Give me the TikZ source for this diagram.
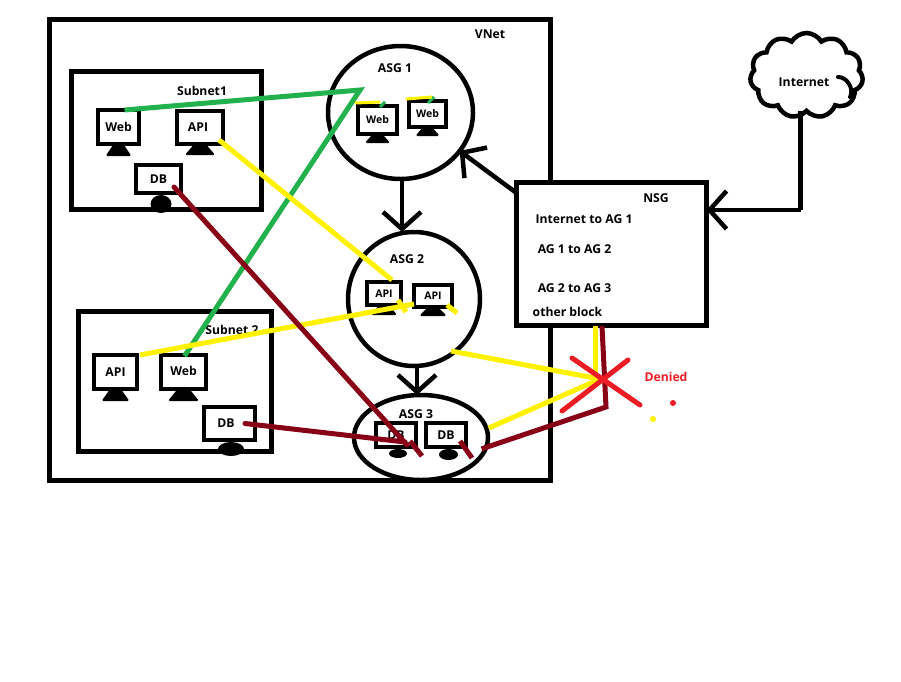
\documentclass[tikz,border=0pt]{standalone}
\usepackage{fontspec}
\setmainfont{Open Sans}
\usetikzlibrary{arrows.meta,shapes.geometric,shapes.symbols}
\definecolor{lineyellow}{RGB}{255,242,0}
\definecolor{linegreen}{RGB}{34,177,76}
\definecolor{linemaroon}{RGB}{136,0,21}
\definecolor{linered}{RGB}{237,28,36}
% foot of a screen: below which screen, width, height
\newcommand{\standtri}[3]{\filldraw[line width=2pt,line join=round] ([xshift=-#2*0.2 pt,yshift=-1pt]#1.south) -- ([xshift=#2*0.2 pt,yshift=-1pt]#1.south) -- ([xshift=#2*0.5 pt,yshift=-#3 pt]#1.south) -- ([xshift=-#2*0.5 pt,yshift=-#3 pt]#1.south) -- cycle;}
\tikzset{
  every node/.style={font=\bfseries\fontsize{12.2}{14}\selectfont,outer sep=0pt,inner sep=0pt},
  box/.style={draw,line width=5pt},
  monitor/.style 2 args={draw,line width=4.5pt,fill=white,minimum width=#1 pt,minimum height=#2 pt},
  smallscreen/.style={font=\bfseries\fontsize{10.5}{12}\selectfont},
  group/.style 2 args={draw,ellipse,line width=4.5pt,minimum width=#1 pt,minimum height=#2 pt},
  standblob/.style 2 args={fill=black,ellipse,minimum width=#1 pt,minimum height=#2 pt},
  conn/.style={line width=4.5pt,-{Straight Barb[length=17pt,width=38pt]}},
  flow/.style={line width=5pt},
}
\begin{document}
\begin{tikzpicture}[x=1pt,y=-1pt]
  \useasboundingbox (0,0) rectangle (901,681);

  \node[box,minimum width=501pt,minimum height=461pt] (vnet) at (300,250) {};
  \node[box,minimum width=190pt,minimum height=138.5pt] (subnet1) at (166.5,140.5) {};
  \node[box,minimum width=193.5pt,minimum height=140.5pt] (subnet2) at (175,381.5) {};
  \node[group={145}{133}] (asg1) at (400.5,112.5) {};
  \node[group={132}{134}] (asg2) at (414,299) {};
  \node[group={134}{85}] (asg3) at (421,437.5) {};
  \node[box,fill=white,minimum width=190pt,minimum height=143pt] (nsg) at (611.5,254) {};
  \node[draw,cloud,line width=4.5pt,cloud puffs=11,cloud puff arc=120,aspect=1.35,minimum width=113pt,minimum height=85pt] (internet) at (806.5,75.5) {};
  \draw[line width=4pt,line cap=round] (838,77) to[bend left=60] (850,97);

  % labels
  \node (vnetlabel) at (490,34) {VNet};
  \node (subnet1label) at (202,91) {Subnet1};
  \node (subnet2label) at (232,330) {Subnet 2};
  \node (asg1label) at (395,68) {ASG 1};
  \node (asg2label) at (407,259) {ASG 2};
  \node (asg3label) at (416,414) {ASG 3};
  \node (internetlabel) at (804,82) {Internet};
  \node (nsglabel) at (656,198.5) {NSG};
  \node (rule1) at (584,219) {Internet to AG 1};
  \node (rule2) at (574.5,249.5) {AG 1 to AG 2};
  \node (rule3) at (574.5,288.5) {AG 2 to AG 3};
  \node (rule4) at (567.5,312) {other block};
  \node[text=linered] (deniedlabel) at (666,377) {Denied};

  % monitors
  \node[monitor={41}{34}] (web1) at (118.5,127) {\raisebox{-2pt}{Web}};
  \node[monitor={46}{33}] (api1) at (200,127.5) {\hspace*{-4pt}API};
  \node[monitor={45}{28}] (db1) at (158.5,179) {DB};
  \node[monitor={39}{28},smallscreen] (web2) at (377.5,120) {Web};
  \node[monitor={37}{26},smallscreen] (web3) at (427.5,114) {Web};
  \node[monitor={34}{23},smallscreen] (api2) at (384,293.5) {API};
  \node[monitor={38}{22},smallscreen] (api3) at (433,296) {API};
  \node[monitor={40}{24}] (db2) at (396,435) {DB};
  \node[monitor={40}{24}] (db3) at (446,435) {DB};
  \node[monitor={43}{34}] (api4) at (115.5,372) {API};
  \node[monitor={45}{34}] (web4) at (183.5,372) {\raisebox{2pt}{Web}};
  \node[monitor={51}{33}] (db4) at (229.5,423.5) {\hspace*{-7pt}DB};

  % stands
  \standtri{web1}{22}{11}
  \standtri{api1}{26}{10}
  \node[standblob={21}{18}] (stand3) at (161,204) {};
  \standtri{web2}{21}{8}
  \standtri{web3}{20}{8}
  \standtri{api2}{22}{9}
  \standtri{api3}{23}{8}
  \node[standblob={18}{9}] (stand8) at (398,453.5) {};
  \node[standblob={19}{11}] (stand9) at (448.5,454.5) {};
  \standtri{api4}{24}{11}
  \standtri{web4}{27}{11}
  \node[standblob={26}{14}] (stand12) at (231,449) {};

  % traffic
  \draw[conn] ([xshift=1.5pt]asg1.south) -- ([xshift=1.5pt]asg1.south |- asg2.north);
  \draw[conn] ([xshift=3pt]asg2.south) -- ([xshift=3pt]asg2.south |- asg3.north);
  \draw[conn] ([yshift=-10.5pt]nsg.north west) -- (asg1.-33);
  \coordinate (junction) at (800.5,210);
  \draw[line width=4.5pt] (junction |- internet.south) -- (junction);
  \draw[conn] (junction) -- (junction -| nsg.east);

  \coordinate (bend) at (360,90);
  \coordinate (deny) at (600,379);
  \coordinate (corner) at (606,407);
  \coordinate (asgtwoout) at (451,351);

  \draw[flow,linegreen] ([xshift=6pt]web1.north) -- (bend) -- ([xshift=1pt,yshift=16pt]web4.center);
  \draw[flow,linegreen,line width=3pt] (380,107) -- (385,102) (428,103) -- (434,97);
  \draw[flow,lineyellow,line width=3pt] (355,103) -- (380,102) (406,99) -- (432,97);

  \draw[flow,lineyellow] ([xshift=-4pt,yshift=4pt]api1.south east) -- ([xshift=8pt,yshift=2pt]api2.north);
  \draw[flow,lineyellow] ([xshift=3pt]api4.north east) -- ([yshift=-8pt]api3.west);
  \draw[flow,lineyellow] (398,300) -- (406,312);
  \draw[flow,lineyellow] (447,305) -- (457,313);
  \draw[flow,lineyellow] (asgtwoout) -- (deny);
  \draw[flow,lineyellow] ([xshift=3pt,yshift=-2pt]asg3.10) -- (deny);
  \draw[flow,lineyellow] (595,326) -- (595,379);

  \draw[flow,linemaroon,line cap=round] (db1.east) ++(-7pt,-8pt) -- (407,445);
  \draw[flow,linemaroon,line cap=round] (db4.east) ++(-10pt,0pt) -- (405,442);
  \draw[flow,linemaroon] (410,441) -- (422,456);
  \draw[flow,linemaroon] (460,441) -- (472,458);
  \draw[flow,linemaroon] ([xshift=-4pt]asg3.-10) -- (corner) -- (602,326);

  \draw[flow,linered,line cap=round] (572,358) -- (640,405) (562,411) -- (628,360);
  \fill[linered] (673,403) circle (3pt);
  \fill[lineyellow] (653,419) circle (3pt);
\end{tikzpicture}
\end{document}
